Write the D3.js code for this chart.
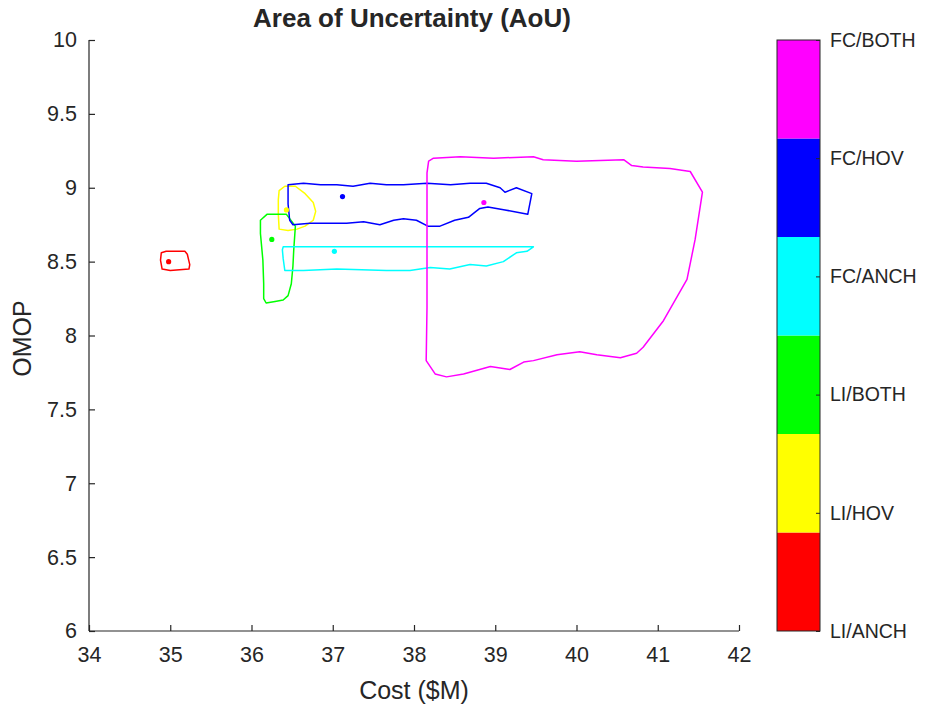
<!DOCTYPE html>
<html>
<head>
<meta charset="utf-8">
<script src="https://cdn.jsdelivr.net/npm/d3@7"></script>
<style>
  body { margin: 0; background: #fff; }
  text { font-family: "Liberation Sans", Arial, sans-serif; fill: #262626; }
</style>
</head>
<body>
<svg id="chart" width="925" height="709"></svg>
<script>
// categories in colorbar order, bottom to top
const categories = ["LI/ANCH", "LI/HOV", "LI/BOTH", "FC/ANCH", "FC/HOV", "FC/BOTH"]
const colors = ["#ff0000", "#ffff00", "#00ff00", "#00ffff", "#0000ff", "#ff00ff"]

const xTicks = [34, 35, 36, 37, 38, 39, 40, 41, 42]
const yTicks = [6, 6.5, 7, 7.5, 8, 8.5, 9, 9.5, 10]

// centre of each area (cost, omop)
const centers = [
  [34.98, 8.50],
  [36.43, 8.85],
  [36.25, 8.65],
  [37.02, 8.57],
  [37.12, 8.94],
  [38.86, 8.90]
]

// AoU outlines (cost, omop)
const aouLIANCH = [[34.89,8.56],[34.95,8.57],[35.18,8.57],[35.21,8.55],[35.24,8.48],[35.23,8.45],[35.00,8.44],[34.90,8.45],[34.88,8.51]]
const aouLIHOV = [[36.34,8.98],[36.41,9.01],[36.54,9.01],[36.66,8.96],[36.76,8.90],[36.79,8.84],[36.76,8.78],[36.66,8.74],[36.56,8.72],[36.45,8.71],[36.34,8.72],[36.33,8.82],[36.33,8.92]]
const aouLIBOTH = [[36.13,8.79],[36.19,8.82],[36.31,8.82],[36.43,8.82],[36.54,8.74],[36.52,8.58],[36.51,8.47],[36.49,8.35],[36.45,8.27],[36.39,8.24],[36.29,8.23],[36.18,8.22],[36.15,8.25],[36.15,8.35],[36.14,8.51],[36.11,8.69],[36.11,8.78]]
const aouFCANCH = [[36.39,8.60],[39.47,8.60],[39.39,8.57],[39.26,8.56],[39.10,8.50],[38.89,8.47],[38.69,8.48],[38.44,8.45],[38.20,8.46],[37.95,8.44],[37.66,8.44],[37.05,8.45],[36.64,8.44],[36.41,8.44],[36.39,8.52],[36.38,8.58]]
const aouFCHOV = [[36.45,9.02],[36.64,9.03],[36.85,9.02],[37.05,9.02],[37.25,9.01],[37.46,9.03],[37.66,9.02],[37.87,9.02],[38.16,9.03],[38.45,9.02],[38.69,9.03],[38.89,9.03],[39.06,9.00],[39.12,8.97],[39.26,9.00],[39.45,8.96],[39.40,8.82],[39.12,8.85],[38.91,8.87],[38.81,8.86],[38.67,8.80],[38.50,8.78],[38.32,8.74],[38.17,8.74],[38.03,8.78],[37.87,8.79],[37.75,8.78],[37.58,8.75],[37.38,8.77],[37.17,8.76],[36.97,8.76],[36.72,8.76],[36.51,8.75],[36.47,8.78],[36.45,8.89]]
const aouFCBOTH = [[38.18,9.18],[38.24,9.20],[38.57,9.21],[38.98,9.20],[39.47,9.21],[39.59,9.19],[40.00,9.18],[40.58,9.19],[40.68,9.15],[40.82,9.14],[41.15,9.13],[41.40,9.11],[41.55,8.97],[41.46,8.65],[41.36,8.38],[41.07,8.10],[40.82,7.92],[40.74,7.88],[40.54,7.85],[40.25,7.87],[40.04,7.89],[39.76,7.87],[39.47,7.83],[39.35,7.82],[39.18,7.77],[38.94,7.79],[38.61,7.74],[38.40,7.72],[38.26,7.74],[38.15,7.83],[38.16,8.19],[38.16,8.65],[38.16,9.10]]

const outlines = [aouLIANCH, aouLIHOV, aouLIBOTH, aouFCANCH, aouFCHOV, aouFCBOTH]

const svg = d3.select("#chart")
const margin = {left: 89, top: 40, right: 186, bottom: 78}
const w = 925 - margin.left - margin.right
const h = 709 - margin.top - margin.bottom

const xScale = d3.scaleLinear().domain([34, 42]).range([0, w])
const yScale = d3.scaleLinear().domain([6, 10]).range([h, 0])

const g = svg.append("g").attr("transform", `translate(${margin.left},${margin.top})`)

// outlines
const lineGen = d3.line()
  .x(d => xScale(d[0]))
  .y(d => yScale(d[1]))
  .curve(d3.curveLinearClosed)

const drawOrder = [0, 1, 2, 3, 4, 5]
g.selectAll(".aou")
  .data(drawOrder)
  .join("path")
  .attr("class", "aou")
  .attr("d", i => lineGen(outlines[i]))
  .attr("fill", "none")
  .attr("stroke", i => colors[i])
  .attr("stroke-width", 1.5)
  .attr("stroke-linejoin", "round")

g.selectAll(".center")
  .data(drawOrder)
  .join("circle")
  .attr("class", "center")
  .attr("cx", i => xScale(centers[i][0]))
  .attr("cy", i => yScale(centers[i][1]))
  .attr("r", 2.6)
  .attr("fill", i => colors[i])

// axes (matlab style, inward ticks, no box)
const xAxis = g.append("g").attr("transform", `translate(0,${h})`)
  .call(d3.axisBottom(xScale).tickValues(xTicks).tickSize(-6).tickPadding(16).tickFormat(d3.format("d")))
const yAxis = g.append("g")
  .call(d3.axisLeft(yScale).tickValues(yTicks).tickSize(-6).tickPadding(12).tickFormat(d => String(d)))

;[xAxis, yAxis].forEach(a => {
  a.select(".domain").attr("stroke", "#262626").attr("stroke-width", 1.2)
  a.selectAll(".tick line").attr("stroke", "#262626").attr("stroke-width", 1.2)
  a.selectAll("text").attr("font-size", 21.5).attr("fill", "#262626").attr("font-family", "Liberation Sans, Arial, sans-serif")
})
xAxis.select(".domain").attr("d", `M0,0H${w}`)
yAxis.select(".domain").attr("d", `M0,${h}V0`)

// labels
svg.append("text")
  .attr("x", margin.left + w / 2).attr("y", 699)
  .attr("text-anchor", "middle").attr("font-size", 25)
  .text("Cost ($M)")

svg.append("text")
  .attr("transform", `translate(31,${margin.top + h / 2 + 3}) rotate(-90)`)
  .attr("text-anchor", "middle").attr("font-size", 25)
  .text("OMOP")

svg.append("text")
  .attr("x", 412).attr("y", 27)
  .attr("text-anchor", "middle").attr("font-size", 26).attr("font-weight", "bold")
  .attr("fill", "#000")
  .text("Area of Uncertainty (AoU)")

// colorbar
const cb = {x: 777, y: 40, w: 43, h: 591}
const cbScale = d3.scaleLinear().domain([0, categories.length]).range([cb.y + cb.h, cb.y])
const cbTick = d3.scalePoint().domain(categories).range([cb.y + cb.h, cb.y])

svg.selectAll(".cbBlock")
  .data(categories)
  .join("rect")
  .attr("class", "cbBlock")
  .attr("x", cb.x)
  .attr("y", (d, i) => cbScale(i + 1))
  .attr("width", cb.w)
  .attr("height", (d, i) => cbScale(i) - cbScale(i + 1))
  .attr("fill", (d, i) => colors[i])

svg.append("rect")
  .attr("x", cb.x).attr("y", cb.y).attr("width", cb.w).attr("height", cb.h)
  .attr("fill", "none").attr("stroke", "#262626").attr("stroke-width", 1)

const cbAxis = svg.append("g").attr("transform", `translate(${cb.x + cb.w},0)`)
  .call(d3.axisRight(cbTick).tickSize(-4).tickPadding(10))
cbAxis.select(".domain").remove()
cbAxis.selectAll(".tick line").attr("stroke", "#262626")
cbAxis.selectAll("text").attr("font-size", 19.5).attr("fill", "#262626").attr("font-family", "Liberation Sans, Arial, sans-serif")
</script>
</body>
</html>
